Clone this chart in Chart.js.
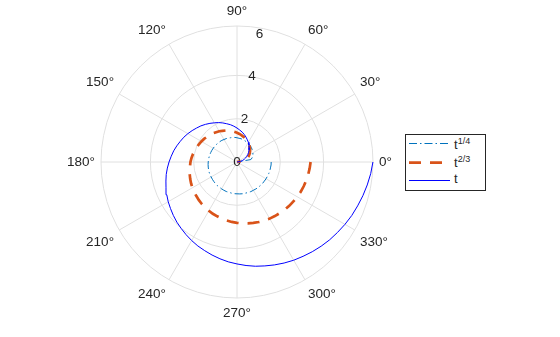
<!DOCTYPE html>
<html>
<head>
<meta charset="utf-8">
<script src="https://cdn.jsdelivr.net/npm/chart.js@4.4.1/dist/chart.umd.min.js"></script>
<style>
  html, body { margin: 0; padding: 0; background: #fff; }
  #wrap { position: relative; width: 560px; height: 337px; }
  #legend { position: absolute; left: 405px; top: 134px; font-family: "Liberation Sans", Arial, sans-serif; }
</style>
</head>
<body>
<div id="wrap">
  <canvas id="c" width="560" height="337"></canvas>
  <svg id="legend" width="82" height="57">
    <rect x="0.5" y="0.5" width="80" height="56" fill="#fff" stroke="#262626" stroke-width="1"/>
    <line x1="4" x2="45" y1="9.5" y2="9.5" stroke="#0072BD" stroke-width="1" stroke-dasharray="8 3 1.5 3"/>
    <line x1="4" x2="45" y1="28.7" y2="28.7" stroke="#D95319" stroke-width="2.7" stroke-dasharray="12 9"/>
    <line x1="4" x2="45" y1="46.5" y2="46.5" stroke="#0000FF" stroke-width="1"/>
    <text x="49" y="14.7" font-size="13" fill="#262626">t<tspan dy="-5" font-size="9">1/4</tspan></text>
    <text x="49" y="33" font-size="13" fill="#262626">t<tspan dy="-5" font-size="9">2/3</tspan></text>
    <text x="49" y="49" font-size="13" fill="#262626">t</text>
  </svg>
</div>
<script>
// polar plot of t^(1/4), t^(2/3) and t over one turn (t in radians)

// sample angles, degrees
const THETA = [
  0, 5, 10, 15, 20, 25, 30, 35, 40, 45, 50, 55,
  60, 65, 70, 75, 80, 85, 90, 95, 100, 105, 110, 115,
  120, 125, 130, 135, 140, 145, 150, 155, 160, 165, 170, 175,
  180, 185, 190, 195, 200, 205, 210, 215, 220, 225, 230, 235,
  240, 245, 250, 255, 260, 265, 270, 275, 280, 285, 290, 295,
  300, 305, 310, 315, 320, 325, 330, 335, 340, 345, 350, 355,
  360,
];
const R_QUARTER = [
  0, 0.54, 0.65, 0.72, 0.77, 0.81, 0.85, 0.88, 0.91, 0.94, 0.97, 0.99,
  1.01, 1.03, 1.05, 1.07, 1.09, 1.10, 1.12, 1.14, 1.15, 1.16, 1.18, 1.19,
  1.20, 1.22, 1.23, 1.24, 1.25, 1.26, 1.27, 1.28, 1.29, 1.30, 1.31, 1.32,
  1.33, 1.34, 1.35, 1.36, 1.37, 1.38, 1.38, 1.39, 1.40, 1.41, 1.42, 1.42,
  1.43, 1.44, 1.45, 1.45, 1.46, 1.47, 1.47, 1.48, 1.49, 1.49, 1.50, 1.51,
  1.51, 1.52, 1.53, 1.53, 1.54, 1.54, 1.55, 1.55, 1.56, 1.57, 1.57, 1.58,
  1.58,
];
const R_TWO_THIRDS = [
  0, 0.20, 0.31, 0.41, 0.50, 0.58, 0.65, 0.72, 0.79, 0.85, 0.91, 0.97,
  1.03, 1.09, 1.14, 1.20, 1.25, 1.30, 1.35, 1.40, 1.45, 1.50, 1.55, 1.59,
  1.64, 1.68, 1.73, 1.77, 1.81, 1.86, 1.90, 1.94, 1.98, 2.02, 2.07, 2.11,
  2.15, 2.18, 2.22, 2.26, 2.30, 2.34, 2.38, 2.42, 2.45, 2.49, 2.53, 2.56,
  2.60, 2.64, 2.67, 2.71, 2.74, 2.78, 2.81, 2.85, 2.88, 2.91, 2.95, 2.98,
  3.02, 3.05, 3.08, 3.12, 3.15, 3.18, 3.21, 3.25, 3.28, 3.31, 3.34, 3.37,
  3.40,
];
const R_LINEAR = [
  0, 0.09, 0.17, 0.26, 0.35, 0.44, 0.52, 0.61, 0.70, 0.79, 0.87, 0.96,
  1.05, 1.13, 1.22, 1.31, 1.40, 1.48, 1.57, 1.66, 1.75, 1.83, 1.92, 2.01,
  2.09, 2.18, 2.27, 2.36, 2.44, 2.53, 2.62, 2.71, 2.79, 2.88, 2.97, 3.05,
  3.14, 3.23, 3.32, 3.40, 3.49, 3.58, 3.67, 3.75, 3.84, 3.93, 4.01, 4.10,
  4.19, 4.28, 4.36, 4.45, 4.54, 4.63, 4.71, 4.80, 4.89, 4.97, 5.06, 5.15,
  5.24, 5.32, 5.41, 5.50, 5.59, 5.67, 5.76, 5.85, 5.93, 6.02, 6.11, 6.20,
  6.28,
];

const ANGLE_TICKS = [0, 30, 60, 90, 120, 150, 180, 210, 240, 270, 300, 330];
const R_TICKS = [0, 2, 4, 6];
const R_MAX = 6.2832;
const R_LABEL_ANGLE = 80;

const GRID = "#e0e0e0";
const TEXT = "#262626";
const FONT = "13.5px 'Liberation Sans', Arial, sans-serif";

// radar slots go clockwise from 3 o'clock, the plot's angles go counter-clockwise
const STEP = 5;
const N = 360 / STEP;
const slotOf = (deg) => ((360 - deg) / STEP) % N;

const labels = new Array(N);
THETA.forEach((th) => { if (th < 360) labels[slotOf(th)] = th; });

function toSlots(values) {
  const out = new Array(N).fill(null);
  THETA.forEach((th, k) => { if (th > 0) out[slotOf(th)] = values[k]; });
  // r = 0 is the centre at any angle: the last slot ends the path there
  out[N - 1] = values[0];
  return out;
}

const polarText = {
  id: "polarText",
  afterDatasetUpdate(chart, args) {
    // radar lines close on themselves, an open spiral must not
    const line = args.meta.dataset;
    line._loop = false;
    line._fullLoop = false;
    line._segments = undefined;
    line._path = undefined;
  },
  beforeDatasetsDraw(chart) {
    const s = chart.scales.r;
    const ctx = chart.ctx;
    ctx.save();
    ctx.font = FONT;
    ctx.fillStyle = TEXT;
    ctx.textBaseline = "middle";
    ctx.textAlign = "center";
    R_TICKS.forEach((v) => {
      const p = s.getPointPosition(slotOf(R_LABEL_ANGLE), s.getDistanceFromCenterForValue(v));
      ctx.fillText(String(v), p.x, p.y);
    });
    ANGLE_TICKS.forEach((a) => {
      const p = s.getPointPosition(slotOf(a), s.drawingArea + 6);
      const c = Math.cos(a * Math.PI / 180), sn = Math.sin(a * Math.PI / 180);
      ctx.textAlign = Math.abs(c) < 0.01 ? "center" : c > 0 ? "left" : "right";
      const dy = Math.abs(sn) < 0.01 ? 0 : -Math.sign(sn) * 9;
      ctx.fillText(a + "°", p.x, p.y + dy);
    });
    ctx.restore();
  },
};

const line = { fill: false, pointRadius: 0, pointHoverRadius: 0, tension: 0 };

new Chart(document.getElementById("c"), {
  type: "radar",
  data: {
    labels,
    datasets: [
      { ...line, label: "t^1/4", data: toSlots(R_QUARTER), borderColor: "#0072BD",
        borderWidth: 1, borderDash: [8, 3, 1.5, 3], order: 3 },
      { ...line, label: "t^2/3", data: toSlots(R_TWO_THIRDS), borderColor: "#D95319",
        borderWidth: 2.7, borderDash: [12, 9], order: 2 },
      { ...line, label: "t", data: toSlots(R_LINEAR), borderColor: "#0000FF",
        borderWidth: 1, order: 1 },
    ],
  },
  options: {
    responsive: false,
    animation: false,
    devicePixelRatio: 1,
    layout: { padding: { left: 101, right: 187, top: 26, bottom: 39 } },
    plugins: { legend: { display: false }, tooltip: { enabled: false } },
    scales: {
      r: {
        min: 0, max: R_MAX, startAngle: 90,
        ticks: { display: false, stepSize: 2 },
        grid: { circular: true, color: GRID, lineWidth: 1 },
        angleLines: { display: true, color: GRID,
          lineWidth: (ctx) => (labels[ctx.index] % 30 === 0 ? 1 : 0) },
        pointLabels: { display: false },
      },
    },
  },
  plugins: [polarText],
});
</script>
</body>
</html>
